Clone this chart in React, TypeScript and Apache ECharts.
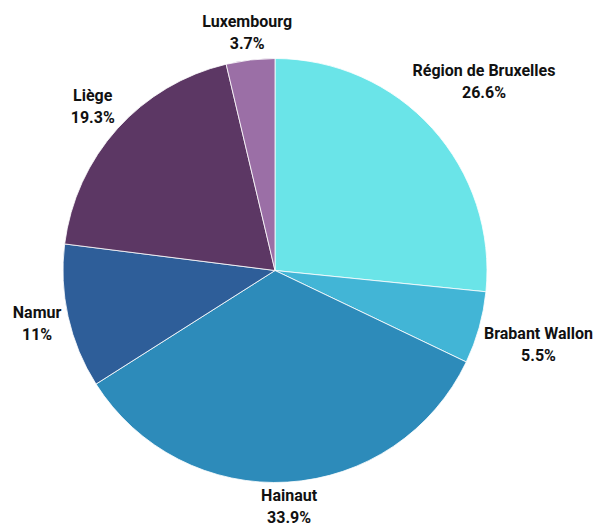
import React, { useEffect, useRef } from "react";
import * as echarts from "echarts";

const categories = ["Région de Bruxelles", "Brabant Wallon", "Hainaut", "Namur", "Liège", "Luxembourg"];
const values = [26.6, 5.5, 33.9, 11, 19.3, 3.7];
const colors = ["#6ae4e8", "#42b5d6", "#2d8bba", "#2e5e99", "#5c3764", "#9b6fa6"];

const CX = 275;
const CY = 270.5;
const R = 212;
const GAP = 4;

export default function App() {
  const ref = useRef<HTMLDivElement>(null);
  useEffect(() => {
    if (!ref.current) return;
    const chart = echarts.init(ref.current, undefined, { renderer: "svg" });
    const total = values.reduce((a, b) => a + b, 0);
    const option: any = {
      animation: false,
      backgroundColor: "#ffffff",
      series: [
        {
          type: "pie",
          center: [CX, CY],
          radius: [0, R],
          startAngle: 90,
          clockwise: true,
          avoidLabelOverlap: false,
          data: categories.map((name, i) => ({
            name,
            value: values[i],
            itemStyle: { color: colors[i] },
          })),
          itemStyle: { borderColor: "#ffffff", borderWidth: 0.8 },
          label: {
            show: true,
            position: "outside",
            formatter: "{b}\n{c}%",
            fontFamily: "Roboto",
            fontWeight: "bold",
            fontSize: 16,
            lineHeight: 22,
            color: "#111111",
            align: "center",
          },
          labelLine: { show: false },
          emphasis: { disabled: true },
          labelLayout: (params: any) => {
            const i = params.dataIndex;
            let cum = 0;
            for (let k = 0; k < i; k++) cum += values[k];
            const mid = ((cum + values[i] / 2) / total) * Math.PI * 2;
            const dx = Math.sin(mid);
            const dy = -Math.cos(mid);
            const w = params.labelRect.width;
            const h = params.labelRect.height;
            const d = R + GAP + Math.abs(dx) * w / 2 + Math.abs(dy) * (h / 2 - 3);
            return {
              x: CX + dx * d,
              y: CY + dy * d,
              align: "center",
              verticalAlign: "middle",
            };
          },
        },
      ],
    };
    chart.setOption(option);
    return () => chart.dispose();
  }, []);
  return (
    <div
      ref={ref}
      style={{ position: "fixed", left: 0, top: 0, width: 605, height: 528, background: "#fff" }}
    />
  );
}
